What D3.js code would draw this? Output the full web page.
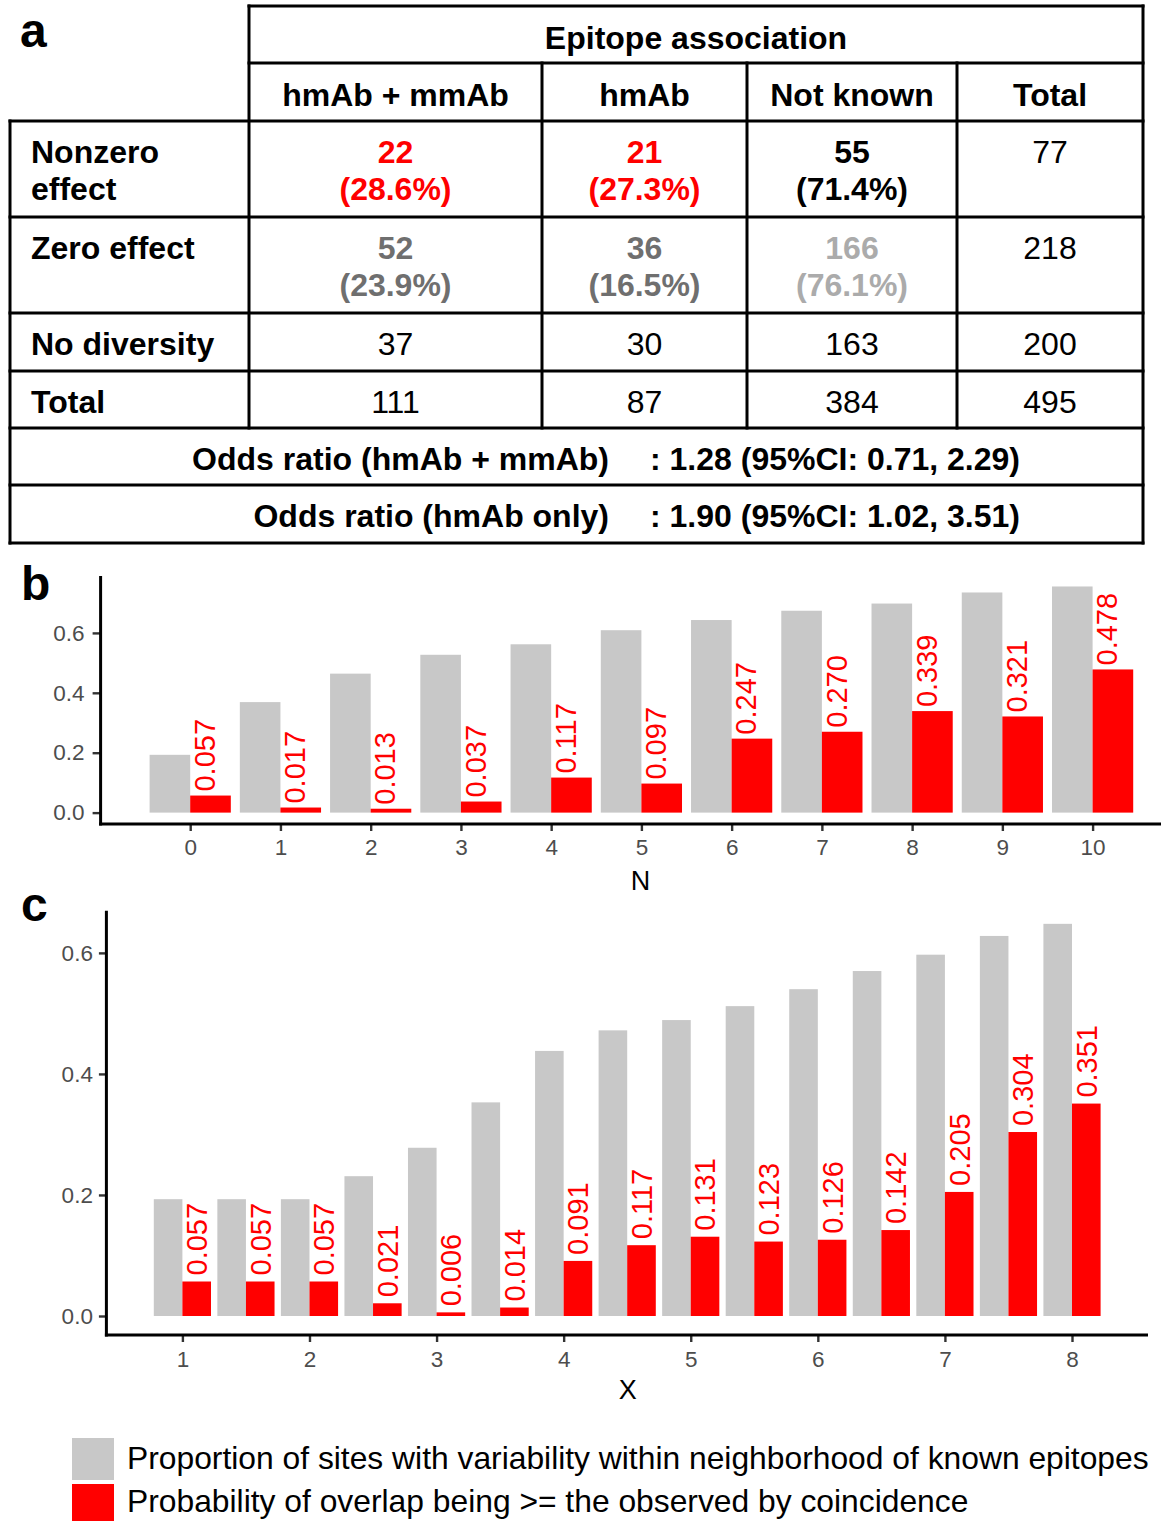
<!DOCTYPE html>
<html>
<head>
<meta charset="utf-8">
<script src="https://cdn.jsdelivr.net/npm/d3@7"></script>
<style>
  html, body { margin: 0; padding: 0; background: #fff; }
  svg { display: block; font-family: "Liberation Sans", Arial, Helvetica, sans-serif; }
</style>
</head>
<body>
<svg id="fig" width="1168" height="1521"></svg>
<script>
// ---------- Panel a: contingency table ----------
const epitopeGroups = ["hmAb + mmAb", "hmAb", "Not known", "Total"];
const effectRows = ["Nonzero effect", "Zero effect", "No diversity", "Total"];
const nonzeroCounts = [22, 21, 55, 77];
const nonzeroPct = ["28.6%", "27.3%", "71.4%"];
const zeroCounts = [52, 36, 166, 218];
const zeroPct = ["23.9%", "16.5%", "76.1%"];
const noDiversityCounts = [37, 30, 163, 200];
const totalCounts = [111, 87, 384, 495];
const oddsLabels = ["Odds ratio (hmAb + mmAb)", "Odds ratio (hmAb only)"];
const oddsValues = [": 1.28 (95%CI: 0.71, 2.29)", ": 1.90 (95%CI: 1.02, 3.51)"];

// ---------- Panel b: by neighbourhood size N ----------
const nValues = [0, 1, 2, 3, 4, 5, 6, 7, 8, 9, 10];
const nVariability = [0.193, 0.369, 0.464, 0.527, 0.562, 0.609, 0.643, 0.674, 0.698, 0.735, 0.755];
const nOverlapProb = [0.057, 0.017, 0.013, 0.037, 0.117, 0.097, 0.247, 0.270, 0.339, 0.321, 0.478];

// ---------- Panel c: by distance X ----------
const xValues = [1, 1.5, 2, 2.5, 3, 3.5, 4, 4.5, 5, 5.5, 6, 6.5, 7, 7.5, 8];
const xVariability = [0.193, 0.193, 0.193, 0.231, 0.278, 0.353, 0.438, 0.472, 0.489, 0.512, 0.540, 0.570, 0.597, 0.628, 0.648];
const xOverlapProb = [0.057, 0.057, 0.057, 0.021, 0.006, 0.014, 0.091, 0.117, 0.131, 0.123, 0.126, 0.142, 0.205, 0.304, 0.351];
const xTicks = [1, 2, 3, 4, 5, 6, 7, 8];
const yTicks = [0, 0.2, 0.4, 0.6];

const legendLabels = [
  "Proportion of sites with variability within neighborhood of known epitopes",
  "Probability of overlap being >= the observed by coincidence"
];

// ---------- styling ----------
const GRAY_BAR = "#c8c8c8";
const RED = "#ff0000";
const AXIS_TEXT = "#4d4d4d";
const TABLE_FONT = 32;
const LABEL_FONT = 29;
const TICK_FONT = 22.5;

const svg = d3.select("#fig");

// panel letters
[["a", 20, 47], ["b", 21, 600], ["c", 21, 921]].forEach(([t, x, y]) => {
  svg.append("text").attr("x", x).attr("y", y).text(t)
    .attr("font-size", 48).attr("font-weight", "bold").attr("fill", "#000");
});

// ================= Table =================
const tbl = svg.append("g");
const colX = [249, 542, 747, 957, 1143];
const tableLeft = 10;
const rowY = [6, 63, 121, 217, 313, 371, 428, 485, 543];

function rule(x1, y1, x2, y2) {
  tbl.append("line").attr("x1", x1).attr("y1", y1).attr("x2", x2).attr("y2", y2)
    .attr("stroke", "#000").attr("stroke-width", 3).attr("stroke-linecap", "square");
}
rule(colX[0], rowY[0], colX[4], rowY[0]);
rule(colX[0], rowY[1], colX[4], rowY[1]);
for (let i = 2; i < rowY.length; i++) rule(tableLeft, rowY[i], colX[4], rowY[i]);
rule(colX[0], rowY[0], colX[0], rowY[6]);
for (let i = 1; i < 4; i++) rule(colX[i], rowY[1], colX[i], rowY[6]);
rule(colX[4], rowY[0], colX[4], rowY[8]);
rule(tableLeft, rowY[2], tableLeft, rowY[8]);

function cellText(x, y, str, opts = {}) {
  return tbl.append("text").attr("x", x).attr("y", y).text(str)
    .attr("font-size", TABLE_FONT)
    .attr("font-weight", opts.bold ? "bold" : "normal")
    .attr("fill", opts.fill || "#000")
    .attr("text-anchor", opts.anchor || "middle");
}

const colCenter = i => (colX[i] + colX[i + 1]) / 2;

cellText((colX[0] + colX[4]) / 2, rowY[0] + 43, "Epitope association", { bold: true });
epitopeGroups.forEach((g, i) => cellText(colCenter(i), rowY[1] + 43, g, { bold: true }));

// row labels
effectRows.forEach((r, i) => {
  const top = rowY[2 + i];
  const lines = r === "Nonzero effect" ? ["Nonzero", "effect"] : [r];
  lines.forEach((ln, k) => cellText(31, top + 42 + k * 37, ln, { bold: true, anchor: "start" }));
});

// two-line cells: counts + percentages
const nonzeroFill = [RED, RED, "#000"];
const zeroFill = ["#6f6f6f", "#6f6f6f", "#ababab"];
[[nonzeroCounts, nonzeroPct, nonzeroFill], [zeroCounts, zeroPct, zeroFill]].forEach(([counts, pcts, fills], r) => {
  const top = rowY[2 + r];
  counts.forEach((c, i) => {
    if (i < 3) {
      cellText(colCenter(i), top + 42, c, { bold: true, fill: fills[i] });
      cellText(colCenter(i), top + 79, "(" + pcts[i] + ")", { bold: true, fill: fills[i] });
    } else {
      cellText(colCenter(i), top + 42, c);
    }
  });
});
[noDiversityCounts, totalCounts].forEach((counts, r) => {
  const top = rowY[4 + r];
  counts.forEach((c, i) => cellText(colCenter(i), top + 42, c));
});

// odds ratio rows
oddsLabels.forEach((lab, i) => {
  const top = rowY[6 + i];
  cellText(609, top + 42, lab, { bold: true, anchor: "end" });
  cellText(650, top + 42, oddsValues[i], { bold: true, anchor: "start" });
});

// ================= Bar panels =================
const fmt3 = d3.format(".3f");

function barPanel(cfg) {
  const g = svg.append("g");
  const { xScale, yScale, cats, grayVals, redVals, bw } = cfg;
  const y0 = yScale(0);

  g.selectAll("rect.gray").data(cats).join("rect")
    .attr("x", (d) => xScale(d) - bw)
    .attr("y", (d, i) => yScale(grayVals[i]))
    .attr("width", bw)
    .attr("height", (d, i) => y0 - yScale(grayVals[i]))
    .attr("fill", GRAY_BAR);

  g.selectAll("rect.red").data(cats).join("rect")
    .attr("x", (d) => xScale(d))
    .attr("y", (d, i) => yScale(redVals[i]))
    .attr("width", bw)
    .attr("height", (d, i) => y0 - yScale(redVals[i]))
    .attr("fill", RED);

  // rotated value labels above the red bars
  const capHalf = LABEL_FONT * 0.716 / 2;
  g.selectAll("text.val").data(cats).join("text")
    .attr("transform", (d, i) => {
      const cx = xScale(d) + bw / 2 + cfg.labelShift + capHalf;
      const cy = yScale(redVals[i]) - cfg.labelGap;
      return `translate(${cx},${cy}) rotate(-90)`;
    })
    .attr("text-anchor", "start")
    .attr("font-size", LABEL_FONT)
    .attr("fill", RED)
    .text((d, i) => fmt3(redVals[i]));

  // axes
  const [yBottom, yTop] = yScale.range();
  const yAxis = d3.axisLeft(yScale).tickValues(yTicks).tickFormat(d3.format(".1f"))
    .tickSize(cfg.tickLen).tickPadding(cfg.yPad);
  const ya = g.append("g").attr("transform", `translate(${cfg.axisX},0)`).call(yAxis);
  const xAxis = d3.axisBottom(xScale).tickSize(7).tickPadding(cfg.xPad);
  if (cfg.xTicks) xAxis.tickValues(cfg.xTicks).tickFormat(d3.format("d"));
  const xa = g.append("g").attr("transform", `translate(0,${yBottom})`).call(xAxis);
  [ya, xa].forEach(a => {
    a.select(".domain").remove();
    a.selectAll(".tick line").attr("stroke", "#333").attr("stroke-width", 2.4);
    a.selectAll(".tick text").attr("fill", AXIS_TEXT).attr("font-size", TICK_FONT)
      .attr("font-family", "Liberation Sans, Arial, sans-serif");
  });

  g.append("line").attr("x1", cfg.axisX).attr("x2", cfg.axisX)
    .attr("y1", yTop).attr("y2", yBottom + 1.5)
    .attr("stroke", "#000").attr("stroke-width", 3);
  g.append("line").attr("x1", cfg.axisX - 1.5).attr("x2", cfg.axisRight)
    .attr("y1", yBottom).attr("y2", yBottom)
    .attr("stroke", "#000").attr("stroke-width", 3);

  g.append("text").attr("x", cfg.titleX).attr("y", cfg.titleY)
    .attr("text-anchor", "middle").attr("font-size", 27).attr("fill", "#000")
    .text(cfg.title);
}

// Panel b
const xB = d3.scalePoint().domain(nValues).range([190.2, 1092.6]);
const yB = d3.scaleLinear().domain([-0.038, 0.79]).range([824, 576]);
barPanel({
  xScale: xB, yScale: yB, cats: nValues,
  grayVals: nVariability, redVals: nOverlapProb,
  bw: xB.step() * 0.45,
  labelShift: -6, labelGap: 4,
  axisX: 100.6, axisRight: 1161, tickLen: 8, yPad: 8, xPad: 8.5,
  title: "N", titleX: 640.6, titleY: 890
});

// Panel c
const xC = d3.scaleLinear().domain([1, 8]).range([182.4, 1072]);
const yC = d3.scaleLinear().domain([-0.0314, 0.6697]).range([1335, 910.7]);
barPanel({
  xScale: xC, yScale: yC, cats: xValues,
  grayVals: xVariability, redVals: xOverlapProb,
  bw: (xC(1.5) - xC(1)) * 0.45,
  labelShift: 0, labelGap: 6,
  axisX: 106.4, axisRight: 1148, tickLen: 7.5, yPad: 6, xPad: 9,
  xTicks: xTicks,
  title: "X", titleX: 627.8, titleY: 1399
});

// ================= Legend =================
const legendFill = [GRAY_BAR, RED];
const legendBaseline = [1469, 1512];
const lg = svg.append("g");
legendLabels.forEach((lab, i) => {
  const top = 1438 + i * 46;
  lg.append("rect").attr("x", 72).attr("y", top).attr("width", 42).attr("height", 42)
    .attr("fill", legendFill[i]);
  lg.append("text").attr("x", 127).attr("y", legendBaseline[i]).attr("font-size", 31.8)
    .attr("fill", "#000").text(lab);
});
</script>
</body>
</html>
